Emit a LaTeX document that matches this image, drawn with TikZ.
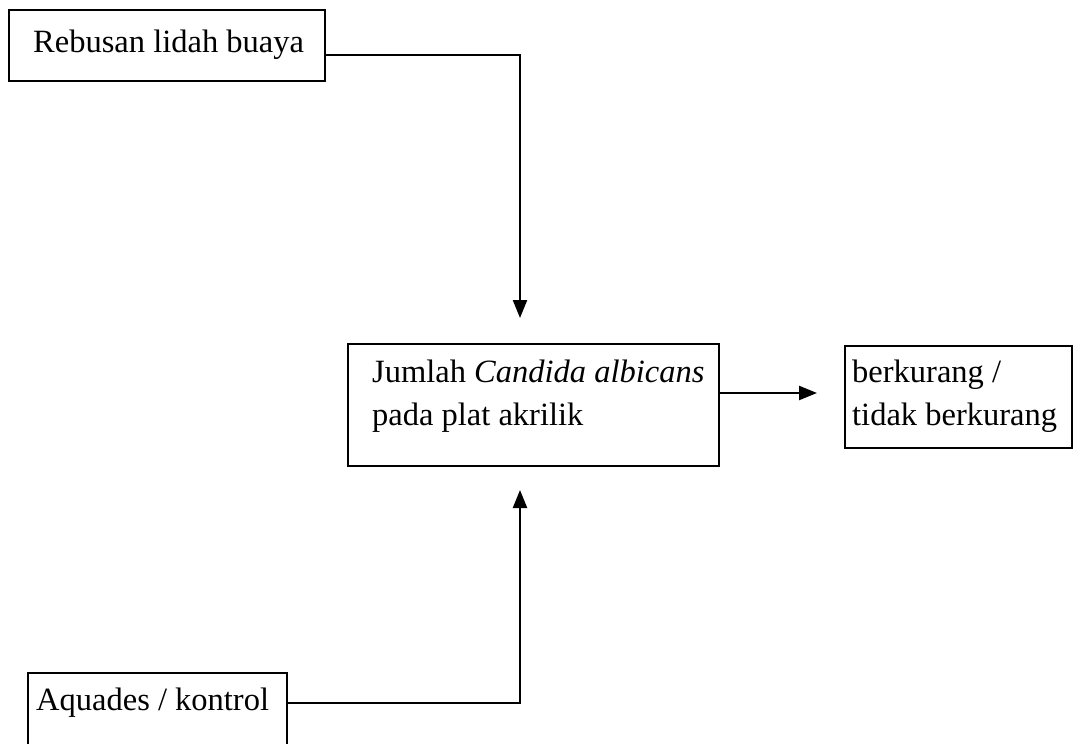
\documentclass[tikz,border=0pt]{standalone}
\usepackage{fontspec}
\setmainfont{Liberation Serif}
\usetikzlibrary{arrows.meta,calc}
\begin{document}
\begin{tikzpicture}[x=1pt,y=-1pt,
  box/.style={draw, line width=2.4pt, inner sep=0pt, anchor=north west},
  lbl/.style={font=\fontsize{32.5}{43}\selectfont, anchor=base west, inner sep=0pt},
  arr/.style={line width=2.4pt, -{Triangle[length=18pt,width=14pt]}}]
\useasboundingbox (0,0) rectangle (1074,744);
% boxes
\node[box, minimum width=316pt, minimum height=71pt] (A) at (8,9) {};
\node[box, minimum width=371pt, minimum height=122pt] (B) at (347,343) {};
\node[box, minimum width=227pt, minimum height=102pt] (C) at (844,345) {};
\node[box, minimum width=259pt, minimum height=80pt] (D) at (27,672) {};
% texts
\node[lbl] (tA) at ($(A.north west)+(25,43)$) {Rebusan lidah buaya};
\node[lbl] (tB1) at ($(B.north west)+(25,39)$) {Jumlah \textit{Candida albicans}};
\node[lbl] (tB2) at ($(B.north west)+(25,82)$) {pada plat akrilik};
\node[lbl] (tC1) at ($(C.north west)+(8,37)$) {berkurang /};
\node[lbl] (tC2) at ($(C.north west)+(8,80)$) {tidak berkurang};
\node[lbl] (tD) at ($(D.north west)+(9,38)$) {Aquades / kontrol};
% connector end points
\coordinate (topend) at (520,318);
\coordinate (botend) at (520,490);
\coordinate (rightend) at (817,393);
% connectors
\draw[arr] ($(A.north east)+(0,46)$) -| (topend);
\draw[arr] ($(D.north east)+(0,31)$) -| (botend);
\draw[arr] ($(B.north east)+(0,50)$) -- (rightend);
\end{tikzpicture}
\end{document}
